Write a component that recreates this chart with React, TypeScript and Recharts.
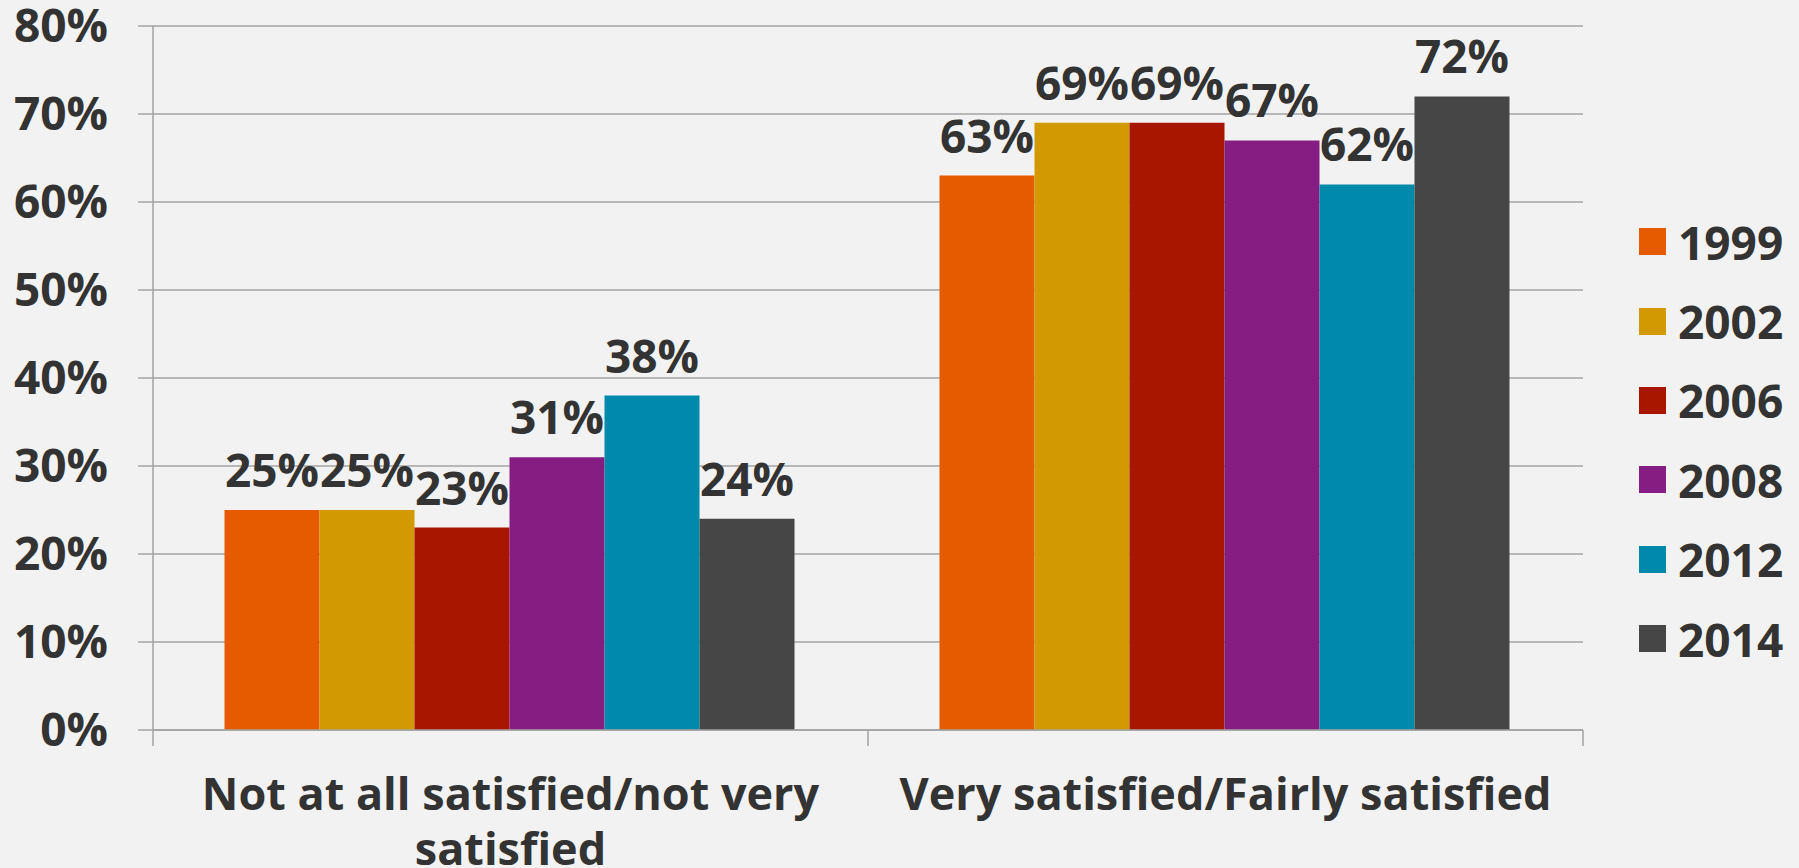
import React from "react";
import { BarChart, Bar, XAxis, YAxis, CartesianGrid, Legend, LabelList } from "recharts";

const categories = ["Not at all satisfied/not very satisfied", "Very satisfied/Fairly satisfied"];
const years = ["1999", "2002", "2006", "2008", "2012", "2014"];
const v1999 = [25, 63];
const v2002 = [25, 69];
const v2006 = [23, 69];
const v2008 = [31, 67];
const v2012 = [38, 62];
const v2014 = [24, 72];
const yTicks = [0, 10, 20, 30, 40, 50, 60, 70, 80];

const colors = ["#E65A00", "#D29A00", "#A81600", "#851D83", "#0089AA", "#464646"];
const seriesValues = [v1999, v2002, v2006, v2008, v2012, v2014];

const data = categories.map((name, i) => {
  const row: Record<string, string | number> = { name };
  years.forEach((yr, j) => {
    row[yr] = seriesValues[j][i];
  });
  return row;
});

const W = 1799;
const H = 868;
const Y_AXIS_W = 153;
const MARGIN = { top: 26, right: 216, left: 0, bottom: 0 };
const PLOT_W = W - Y_AXIS_W - MARGIN.left - MARGIN.right;
const HALF_BAND = PLOT_W / categories.length / 2;

const FONT = "'Open Sans', Lato, sans-serif";
const TEXT = "#333333";
const GRID = "#a3a3a3";
const MAX_CHARS = 31;

// simple word wrap, by characters per line
const wrap = (s: string) => {
  const lines: string[] = [];
  let cur = "";
  s.split(" ").forEach((w) => {
    const next = cur ? cur + " " + w : w;
    if (next.length > MAX_CHARS && cur) {
      lines.push(cur);
      cur = w;
    } else {
      cur = next;
    }
  });
  if (cur) lines.push(cur);
  return lines;
};

const CategoryTick = (props: any) => {
  const { x, y, payload, index } = props;
  const lines = wrap(String(payload.value));
  return (
    <g>
      <line x1={x - HALF_BAND} x2={x - HALF_BAND} y1={y} y2={y + 16} stroke={GRID} strokeWidth={1.5} />
      {index === categories.length - 1 && (
        <line x1={x + HALF_BAND} x2={x + HALF_BAND} y1={y} y2={y + 16} stroke={GRID} strokeWidth={1.5} />
      )}
      <text
        x={x}
        y={y + 80}
        textAnchor="middle"
        fill={TEXT}
        fontSize={45}
        fontWeight={700}
        fontFamily={FONT}
      >
        {lines.map((ln, i) => (
          <tspan key={i} x={x} dy={i === 0 ? 0 : 55}>
            {ln}
          </tspan>
        ))}
      </text>
    </g>
  );
};

const renderLegend = (props: any) => {
  const { payload } = props;
  return (
    <div>
      {(payload || []).map((item: any) => (
        <div key={item.value} style={{ display: "flex", alignItems: "center", height: 79.4 }}>
          <span style={{ display: "inline-block", width: 27, height: 27, background: item.color, marginRight: 12 }} />
          <span style={{ fontSize: 46, fontWeight: 700, color: TEXT, fontFamily: FONT, lineHeight: 1 }}>
            {item.value}
          </span>
        </div>
      ))}
    </div>
  );
};

export default function App() {
  return (
    <div style={{ position: "absolute", left: 0, top: 0, width: W, height: H, background: "#f2f2f2" }}>
      <BarChart width={W} height={H} data={data} margin={MARGIN} barCategoryGap="10%" barGap={0}>
        <CartesianGrid vertical={false} stroke={GRID} strokeWidth={1.5} />
        <XAxis
          dataKey="name"
          height={H - 730}
          axisLine={{ stroke: GRID, strokeWidth: 1.5 }}
          tickLine={false}
          tickSize={0}
          tickMargin={0}
          interval={0}
          tick={<CategoryTick />}
        />
        <YAxis
          width={Y_AXIS_W}
          domain={[0, 80]}
          ticks={yTicks}
          interval={0}
          axisLine={{ stroke: GRID, strokeWidth: 1.5 }}
          tickLine={{ stroke: GRID, strokeWidth: 1.5 }}
          tickSize={15}
          tickMargin={30}
          tickFormatter={(v: number) => `${v}%`}
          tick={{ fill: TEXT, fontSize: 46, fontWeight: 700, fontFamily: FONT }}
        />
        <Legend
          layout="vertical"
          align="center"
          verticalAlign="middle"
          content={renderLegend}
          wrapperStyle={{ left: 1639, top: 202, width: 160 }}
        />
        {years.map((yr, i) => (
          <Bar key={yr} dataKey={yr} fill={colors[i]} isAnimationActive={false}>
            <LabelList
              dataKey={yr}
              position="top"
              offset={23}
              formatter={(v: any) => `${v}%`}
              fill={TEXT}
              fontSize={46}
              fontWeight={700}
              fontFamily={FONT}
            />
          </Bar>
        ))}
      </BarChart>
    </div>
  );
}
